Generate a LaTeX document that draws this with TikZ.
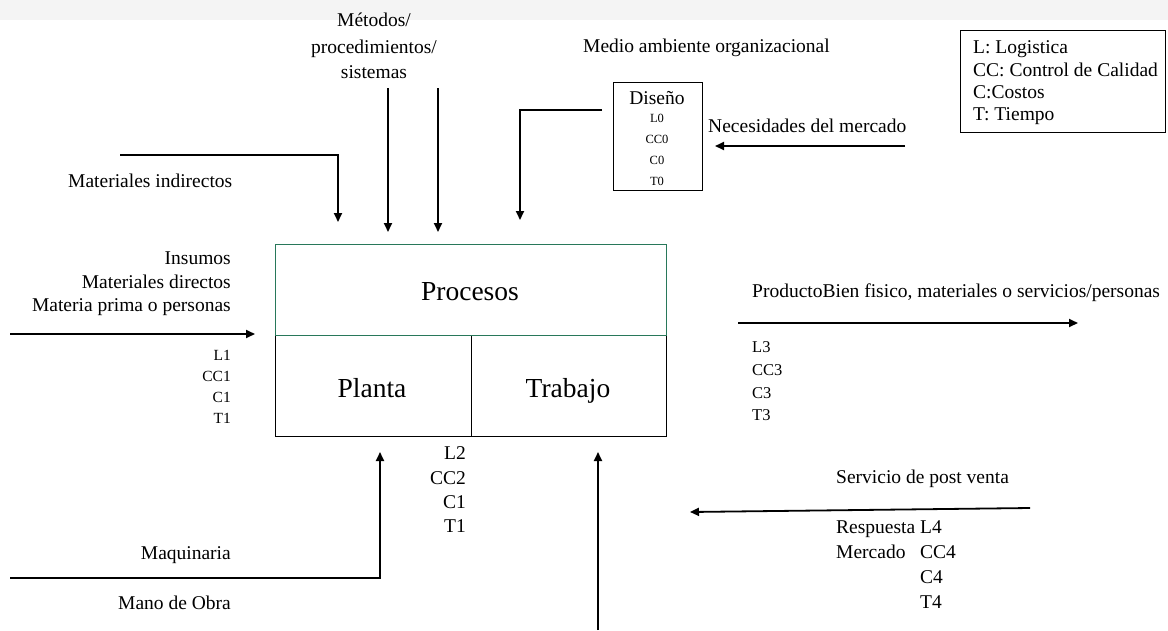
\documentclass[tikz,border=0pt]{standalone}
\usepackage{fontspec}
\setmainfont{Liberation Serif}
\usetikzlibrary{arrows.meta}
\definecolor{boxgreen}{RGB}{40,120,90}
\tikzset{
  arr/.style={line width=1.8pt,-{Triangle[length=9pt,width=8pt]}},
  lbl/.style={inner sep=0pt,yshift=-3pt,font=\fontsize{19.5}{22}\selectfont},
  sml/.style={inner sep=0pt,yshift=-2.5pt,font=\fontsize{15.5}{18}\selectfont},
  mid3/.style={inner sep=0pt,yshift=-2.5pt,font=\fontsize{16.5}{18}\selectfont},
  tiny/.style={inner sep=0pt,yshift=-2pt,font=\fontsize{12.5}{14}\selectfont},
  big/.style={inner sep=0pt,yshift=-5pt,font=\fontsize{27.5}{30}\selectfont},
  boxs/.style={draw,line width=1.2pt,anchor=north west},
}
\begin{document}
\begin{tikzpicture}[x=1pt,y=-1pt]
\useasboundingbox (0,0) rectangle (1168,630);
\fill[gray!9] (0,0) rectangle (1168,20);
% main box
\node[boxs,minimum width=196pt,minimum height=101pt] (planta) at (275,335) {};
\node[boxs,minimum width=195pt,minimum height=101pt] (trabajo) at (471,335) {};
\node[boxs,draw=boxgreen,minimum width=391pt,minimum height=91pt] (proc) at (275,244) {};
\node[big,anchor=mid] (procT) at (470,293) {Procesos};
\node[big,anchor=mid] (plantaT) at (372,390) {Planta};
\node[big,anchor=mid] (trabajoT) at (568,390) {Trabajo};
% top labels
\node[lbl,anchor=mid] (met1) at (374,21) {Métodos/};
\node[lbl,anchor=mid] (met2) at (374,48) {procedimientos/};
\node[lbl,anchor=mid] (met3) at (374,73) {sistemas};
\node[lbl,anchor=mid west] (medio) at (583,47) {Medio ambiente organizacional};
\node[lbl,anchor=mid west] (matind) at (68,182) {Materiales indirectos};
% Diseno box
\node[boxs,minimum width=89pt,minimum height=108pt] (dis) at (613,82) {};
\node[lbl,anchor=mid] (disT) at (657,99) {Diseño};
\node[tiny,anchor=mid] (dL) at (657,118) {L0};
\node[tiny,anchor=mid] (dCC) at (657,139) {CC0};
\node[tiny,anchor=mid] (dC) at (657,160) {C0};
\node[tiny,anchor=mid] (dT) at (657,181) {T0};
\node[lbl,anchor=mid west] (nec) at (708,127) {Necesidades del mercado};
% legend
\node[boxs,minimum width=205pt,minimum height=102pt] (leg) at (960,30) {};
\node[lbl,anchor=mid west] (leg1) at (973,48) {L: Logistica};
\node[lbl,anchor=mid west] (leg2) at (973,71) {CC: Control de Calidad};
\node[lbl,anchor=mid west] (leg3) at (973,93) {C:Costos};
\node[lbl,anchor=mid west] (leg4) at (973,115) {T: Tiempo};
% left inputs
\node[lbl,anchor=mid east] (ins1) at (231,259) {Insumos};
\node[lbl,anchor=mid east] (ins2) at (231,283) {Materiales directos};
\node[lbl,anchor=mid east] (ins3) at (231,306) {Materia prima o personas};
\node[sml,anchor=mid east] (l1a) at (231,356) {L1};
\node[sml,anchor=mid east] (l1b) at (231,377) {CC1};
\node[sml,anchor=mid east] (l1c) at (231,398) {C1};
\node[sml,anchor=mid east] (l1d) at (231,419) {T1};
\node[lbl,anchor=mid east] (maq) at (231,554) {Maquinaria};
\node[lbl,anchor=mid east] (mano) at (231,604) {Mano de Obra};
\node[lbl,anchor=mid east] (l2a) at (466,454) {L2};
\node[lbl,anchor=mid east] (l2b) at (466,479) {CC2};
\node[lbl,anchor=mid east] (l2c) at (466,503) {C1};
\node[lbl,anchor=mid east] (l2d) at (466,527) {T1};
% right side
\node[lbl,anchor=mid west] (prod) at (752,292) {ProductoBien fisico, materiales o servicios/personas};
\node[mid3,anchor=mid west] (l3a) at (752,348) {L3};
\node[mid3,anchor=mid west] (l3b) at (752,371) {CC3};
\node[mid3,anchor=mid west] (l3c) at (752,394) {C3};
\node[mid3,anchor=mid west] (l3d) at (752,416) {T3};
\node[lbl,anchor=mid west] (serv) at (836,478) {Servicio de post venta};
\node[lbl,anchor=mid west] (resp) at (836,528) {Respuesta};
\node[lbl,anchor=mid west] (merc) at (836,553) {Mercado};
\node[lbl,anchor=mid west] (l4a) at (920,528) {L4};
\node[lbl,anchor=mid west] (l4b) at (920,553) {CC4};
\node[lbl,anchor=mid west] (l4c) at (920,578) {C4};
\node[lbl,anchor=mid west] (l4d) at (920,603) {T4};
% coordinates
\coordinate (mi0) at (120,155); \coordinate (mi1) at (338,222);
\coordinate (m1s) at (388,88); \coordinate (m1e) at (388,232);
\coordinate (m2s) at (438,88); \coordinate (m2e) at (438,232);
\coordinate (ma0) at (602,110); \coordinate (ma1) at (520,220);
\coordinate (ne0) at (905,146); \coordinate (ne1) at (715,146);
\coordinate (in0) at (10,334); \coordinate (in1) at (255,334);
\coordinate (mq0) at (10,578); \coordinate (mq1) at (380,452);
\coordinate (mo0) at (598,630); \coordinate (mo1) at (598,452);
\coordinate (pr0) at (738,323); \coordinate (pr1) at (1078,323);
\coordinate (sv0) at (1030,508); \coordinate (sv1) at (690,512);
% arrows
\draw[arr] (mi0) -| (mi1);
\draw[arr] (m1s) -- (m1e);
\draw[arr] (m2s) -- (m2e);
\draw[arr] (ma0) -| (ma1);
\draw[arr] (ne0) -- (ne1);
\draw[arr] (in0) -- (in1);
\draw[arr] (mq0) -| (mq1);
\draw[arr] (mo0) -- (mo1);
\draw[arr] (pr0) -- (pr1);
\draw[arr] (sv0) -- (sv1);
\end{tikzpicture}
\end{document}
